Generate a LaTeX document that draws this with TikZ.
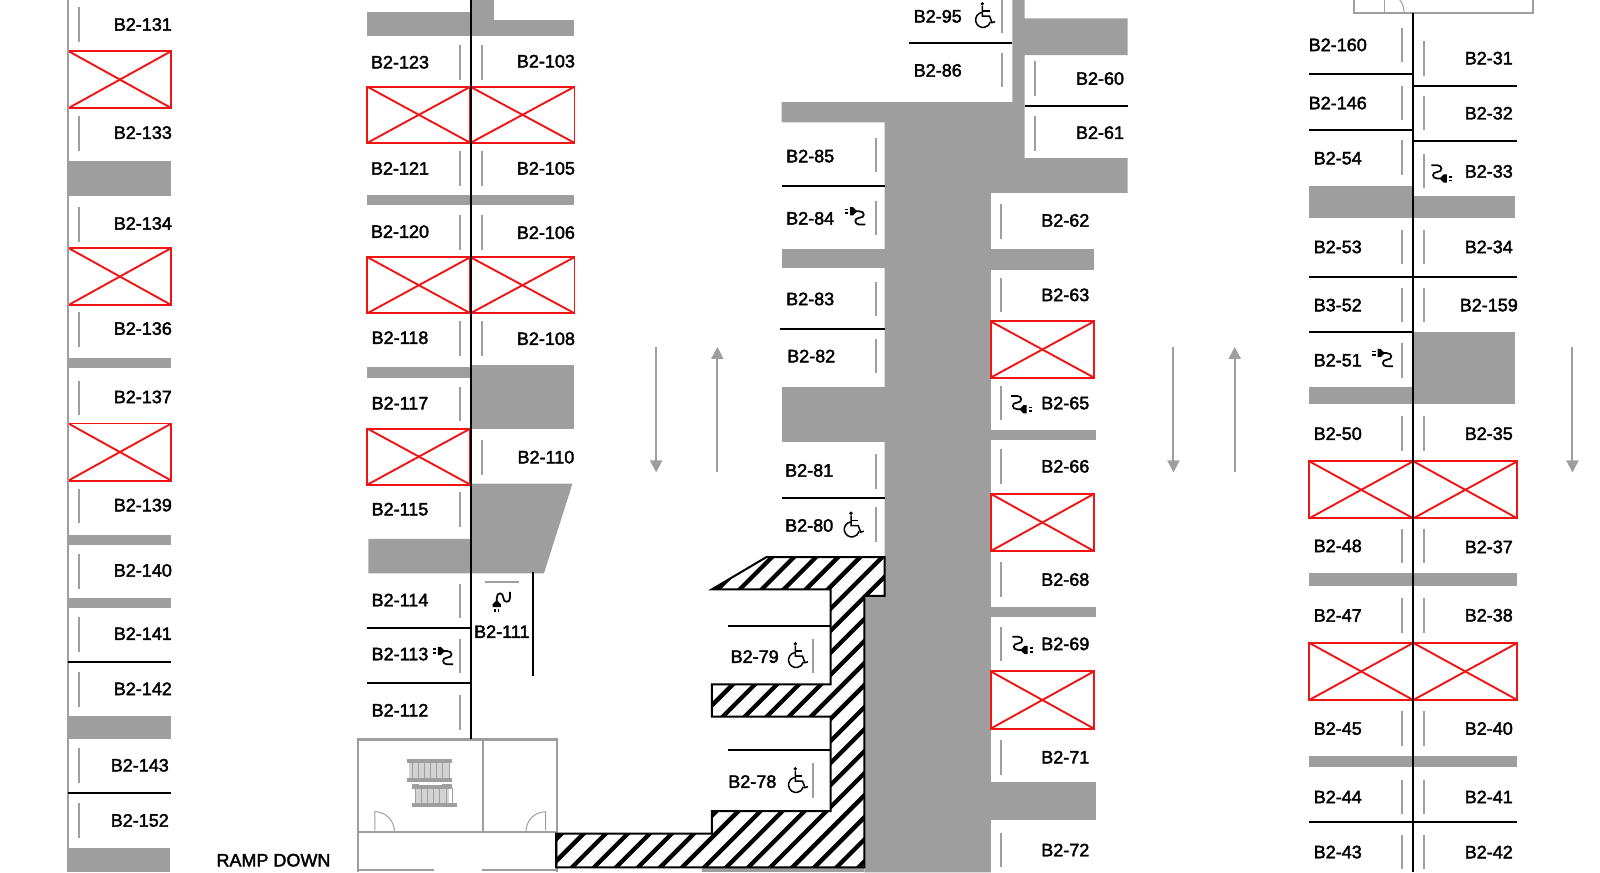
\documentclass[tikz,border=0pt]{standalone}
\usepackage{fontspec}
\usetikzlibrary{arrows.meta}
\newfontfamily\bayfont[RawFeature={embolden=2.2}]{Liberation Sans}
\definecolor{planGray}{HTML}{9E9E9E}
\definecolor{planRed}{HTML}{F01414}

\tikzset{
    baylabel/.style={inner sep=0pt,font=\bayfont\fontsize{18}{19}\selectfont},
    stopper/.style={draw=planGray,line width=2pt},
    divider/.style={draw=black,line width=2pt},
    wall/.style={draw=planGray,line width=2.2pt},
    pillar/.style={fill=planGray},
    crossline/.style={draw=planRed,line width=1.9pt},
    hatchline/.style={draw=black,line width=4.3pt},
    driveway/.style={draw=planGray,line width=2pt,-{Triangle[length=12pt,width=12pt]}},
    wheelchair/.pic={
        \fill (-1,-11) circle (1.8);
        \draw[line width=1.5pt] (-1,-9) -- (-1,1) -- (6,1) -- (8.5,7.5) -- (11.5,6.5);
        \draw[line width=1.5pt] (-1,-4) -- (6,-4);
        \draw[line width=1.5pt] (-1.5,-2.5) arc (-100:-345:7.4);
    },
    plugicon/.pic={
        \fill (-5,-9) -- (-2,-9) -- (2,-5) -- (-2,-1) -- (-5,-1) -- cycle;
        \fill (-10,-7.5) rectangle (-7,-6);
        \fill (-10,-4) rectangle (-7,-2.5);
        \draw[line width=1.7pt] (1,-5) -- (4,-5) .. controls (10,-5) and (10,1.5) .. (4,1.5) .. controls (-1,1.5) and (-1,8) .. (4,8) -- (10,8);
    },
}
% a bay that is closed off, corners given
\newcommand{\crossbay}[4]{
    \draw[crossline] (#1,#2) rectangle (#3,#4);
    \draw[crossline] (#1,#2) -- (#3,#4);
    \draw[crossline] (#1,#4) -- (#3,#2);
}

\begin{document}
\begin{tikzpicture}[x=1.0204pt,y=-1.0204pt]
\useasboundingbox (0,0) rectangle (1568,854.56);

% Grey floor of the middle aisle
\fill[pillar] (992,0) -- (1004,0) -- (1004,18) -- (1105,18) -- (1105,54) -- (1004,54) -- (1004,155) -- (1105,155) -- (1105,189) -- (971,189) -- (971,855) -- (847,855) -- (847,584) -- (867,584) -- (867,120) -- (766,120) -- (766,100) -- (992,100) -- cycle;

% Grey blocks between the bays
\foreach \xa/\ya/\xb/\yb in {67/158/168/192,67/351/168/361,67/524/168/534,67/586/168/596,67/702/168/724,66/831/167/855,
    360/12/461/35,461/0/484/35,484/20/563/35,360/191/563/201,360/360/461/370,461/358/563/420,
    766/244/867/263,766/379/867/433,971/244/1072/265,971/421/1074/431,971/595/1074/605,971/766/1074/804,688/851/847/855,
    1283/182/1385/214,1385/192/1485/214,1385/325/1485/396,1283/379/1385/396,1283/562/1487/574,1283/741/1487/752} {
    \fill[pillar] (\xa,\ya) rectangle (\xb,\yb);
}
\fill[pillar] (461,474) -- (561,474) -- (533,562) -- (361,562) -- (361,528) -- (461,528) -- cycle;

% Draw the closed bays
\foreach \xa/\ya/\xb/\yb in {67/50/168/106,67/243/168/299,67/415/168/471,
    360/85/461/140,461/85/563/140,360/252/461/307,461/252/563/307,360/420/461/475,
    971/315/1072/370,971/484/1072/540,971/658/1072/714,
    1283/452/1385/508,1385/452/1487/508,1283/630/1385/686,1385/630/1487/686} {
    \crossbay{\xa}{\ya}{\xb}{\yb}
}

% Walls and room outlines
\draw[wall] (67,0) -- (67,855);
\draw[wall] (351,855) -- (351,724.6) -- (545.5,724.6) -- (545.5,855);
\draw[wall] (473.3,724.6) -- (473.3,815);
\draw[wall] (351,815) -- (545.5,815);
\draw[wall] (351,852.6) -- (425,852.6);
\draw[wall] (472,852.6) -- (545.5,852.6);
\draw[wall] (1327,0) -- (1327,12.4) -- (1502,12.4) -- (1502,0);

% Doors
\draw[draw=planGray,line width=1pt] (367.3,814) -- (367.3,795.5) arc (-90:0:19.2);
\draw[draw=planGray,line width=1pt] (534.7,814) -- (534.7,795.5) arc (-90:-180:19.2);
\draw[draw=planGray,line width=1pt] (1356.7,0) -- (1356.7,12);
\draw[draw=planGray,line width=1pt] (1376,12) arc (0:-70:19.3);

% Lift
\fill[planGray!45] (400.7,747) rectangle (440.5,763);
\fill[planGray!45] (406.8,772) rectangle (440,787.5);
\foreach \x in {404,410,...,440} {
    \draw[draw=planGray,line width=.8pt] (\x,747) -- (\x,763);
    \draw[draw=planGray,line width=.8pt] (\x+3,772) -- (\x+3,787.5);
}
\fill[pillar] (398.7,743.8) rectangle (442.6,747.4);
\fill[pillar] (398.7,762.8) rectangle (442.6,766.2);
\fill[pillar] (404,768.7) rectangle (442.6,772.8);
\fill[white] (410.8,767) rectangle (432.8,769.5);
\fill[pillar] (404,787.3) rectangle (448,791);

% Hatched core
\begin{scope}
\clip (545,850) -- (545,817) -- (697.7,817) -- (697.7,794.8) -- (814,794.8) -- (814,702.4) -- (697.7,702.4) -- (697.7,670.7) -- (814,670.7) -- (814,577.5) -- (697.7,577.5) -- (751,546) -- (867,546) -- (867,584) -- (847,584) -- (847,850) -- cycle;
\foreach \x in {-8,-7,...,15} {
    \draw[hatchline] (554.5+21.6*\x,856) -- ++(316,-316);
}
\end{scope}
\draw[divider] (545,850) -- (545,817) -- (697.7,817) -- (697.7,794.8) -- (814,794.8) -- (814,702.4) -- (697.7,702.4) -- (697.7,670.7) -- (814,670.7) -- (814,577.5) -- (697.7,577.5) -- (751,546) -- (867,546) -- (867,584) -- (847,584) -- (847,850) -- cycle;

% Spine lines and bay dividers
\draw[divider] (461.4,0) -- (461.4,724.6);
\draw[divider] (1385,13) -- (1385,855);
\draw[divider] (522.5,561) -- (522.5,662);
\draw[stopper] (475,570.4) -- (508.7,570.4);
\foreach \xa/\xb/\y in {67/168/649,67/168/777.5,360/461/615,360/461/669.7,
    713/814/613.2,713/814/735.4,891/992/41.8,1004/1105/103.9,766/867/182.3,764/867/322,766/867/488,
    1283/1385/72.9,1283/1385/127.7,1385/1487/84,1385/1487/138.5,1283/1385/271,1385/1487/271,1283/1385/325,1283/1487/806} {
    \draw[divider] (\xa,\y) -- (\xb,\y);
}

% Draw all the stoppers, top of each one is 17 above the number
\foreach \x/\y in {77/24,77/131,77/220,77/323,77/390,77/496,77/560,77/622,77/676,77/750,77/804,
    451/61,451/165,451/228,451/332,451/396,451/499,451/589,451/643,451/698,472.5/61,472.5/165,472.5/228,472.5/332,472.5/448,
    796.6/643,796.6/765,858/152,858/213.5,858/293,858/349,858/462,858/514,982/15,982/68.6,1014.7/77,1014.7/130.7,
    981/217,981/289,981/395,981/457,981/568,981/631,981/742,981/833,
    1374.3/44,1374.3/101,1374.3/154.5,1374.3/242,1374.3/299,1374.3/353,1374.3/425,1374.3/535,1374.3/603,1374.3/714,1374.3/781,1374.3/835,
    1395.2/57,1395.2/110.6,1395.2/167.6,1395.2/242,1395.2/299,1395.2/425,1395.2/535,1395.2/603,1395.2/714,1395.2/781,1395.2/835} {
    \draw[stopper] (\x,\y-17) -- (\x,\y+17);
}

% Driving direction
\draw[driveway] (643,340) -- (643,463);
\draw[driveway] (703,463) -- (703,340);
\draw[driveway] (1150,340) -- (1150,463);
\draw[driveway] (1210,463) -- (1210,340);
\draw[driveway] (1541,340) -- (1541,463);

% Bay numbers
\foreach \name/\x/\y in {B2-131/140/24,B2-133/140/130,B2-134/140/219,B2-136/140/322,B2-137/140/389,B2-139/140/495,B2-140/140/559,B2-141/140/621,B2-142/140/675,B2-143/137/750,B2-152/137/804,
    B2-123/392/61,B2-121/392/165,B2-120/392/227,B2-118/392/331,B2-117/392/395,B2-115/392/499,B2-114/392/588,B2-113/392/641,B2-112/392/696,
    B2-103/535/60,B2-105/535/165,B2-106/535/228,B2-108/535/332,B2-110/535/448,B2-111/491.8/619,
    B2-79/739.6/643.5,B2-78/737.3/766,B2-85/794/153,B2-84/794/214,B2-83/794/293,B2-82/795/349,B2-81/793/461,B2-80/793/515,B2-95/919/16,B2-86/919/69,
    B2-60/1078/77,B2-61/1078/130,B2-62/1044/216,B2-63/1044/289,B2-65/1044/395,B2-66/1044/457,B2-68/1044/568,B2-69/1044/631,B2-71/1044/742,B2-72/1044/833,
    B2-160/1311/44,B2-146/1311/101,B2-54/1311/155,B2-53/1311/242,B3-52/1311/299,B2-51/1311/353,B2-50/1311/425,B2-48/1311/535,B2-47/1311/603,B2-45/1311/714,B2-44/1311/781,B2-43/1311/835,
    B2-31/1459/57,B2-32/1459/111,B2-33/1459/168,B2-34/1459/242,B2-159/1459/299,B2-35/1459/425,B2-37/1459/536,B2-38/1459/603,B2-40/1459/714,B2-41/1459/781,B2-42/1459/835} {
    \node[baylabel] (\name) at (\x,\y) {\name};
}
\node[baylabel] (rampdown) at (268,843) {RAMP DOWN};

% Accessible bays and charging bays
\foreach \x/\y in {963.7/14.7,835/514,780.4/642,780.4/764.4} {
    \pic at (\x,\y) {wheelchair};
}
\foreach \x/\y in {838/212,434/643,1355/351} {
    \pic at (\x,\y) {plugicon};
}
\foreach \x/\y in {1001/396,1002/632,1412.8/170} {
    \pic[rotate=180] at (\x,\y) {plugicon};
}
\pic[rotate=90] at (491.8,590) {plugicon};

\end{tikzpicture}
\end{document}
